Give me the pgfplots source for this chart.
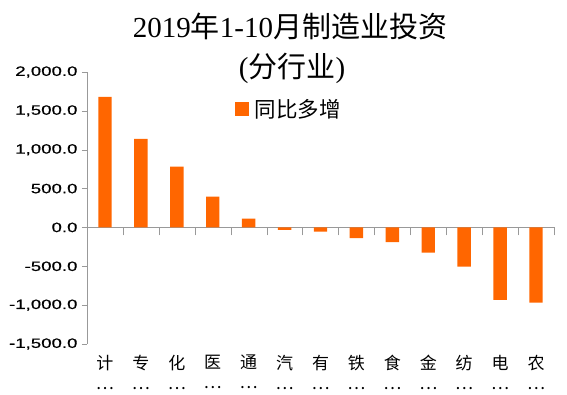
\documentclass[border=0pt]{standalone}
\usepackage{pgfplots}
\pgfplotsset{compat=1.18}
\usepackage{fontspec}
\setmainfont{Liberation Sans}
\newfontfamily\cjk{Noto Sans CJK SC}
\newfontfamily\serifl{Liberation Serif}
\newfontfamily\tickfont[FakeStretch=1.38,FakeBold=0.6]{Liberation Sans}
\definecolor{barorange}{HTML}{FF6600}
\definecolor{axgray}{HTML}{999999}
\begin{document}
\begin{tikzpicture}
\useasboundingbox (-88pt,-50pt) rectangle (479pt,344pt);
\begin{axis}[
  scale only axis, width=467pt, height=272pt,
  at={(-1pt,0pt)}, anchor=south west,
  xmin=-0.5, xmax=12.5, ymin=-1500, ymax=2000,
  axis y line=left, axis x line=middle,
  x axis line style={-, axgray},
  y axis line style={-, axgray},
  ytick={-1500,-1000,...,2000},
  yticklabel style={font=\tickfont\fontsize{13.5}{16}\selectfont, text=black, xshift=-1pt},
  /pgf/number format/.cd, fixed, fixed zerofill, precision=1, 1000 sep={,}, assume math mode=true,
  /pgfplots/.cd,
  tick align=outside,
  major tick length=5pt,
  minor tick length=8pt,
  every major x tick/.append style={draw=none},
  tick style={axgray},
  xtick={0,...,12},
  minor xtick={-0.5,0.5,...,12.5},
  xticklabels={计\\…,专\\…,化\\…,医\\…,通\\…,汽\\…,有\\…,铁\\…,食\\…,金\\…,纺\\…,电\\…,农\\…},
  x tick label style={align=center, font=\cjk\fontsize{17}{20}\selectfont, anchor=north, yshift=-119pt},
  legend entries={\hspace{4pt}同比多增},
  legend style={draw=none, fill=none, at={(0.31,0.864)}, anchor=west, font=\cjk\fontsize{21.5}{23}\selectfont},
  legend image code/.code={\fill[barorange] (0pt,-7pt) rectangle (14pt,7pt);},
]
\addplot[ybar, bar width=13.4pt, fill=barorange, draw=none] coordinates {
(0,1680) (1,1140) (2,784) (3,398) (4,112) (5,-30) (6,-55) (7,-136) (8,-188) (9,-325) (10,-505) (11,-933) (12,-968)
};
\end{axis}
\node[font=\fontsize{29}{32}\selectfont] at (202pt,318pt) {{\serifl 2019}{\cjk 年}{\serifl 1-10}{\cjk 月制造业投资}};
\node[font=\fontsize{29}{32}\selectfont] at (204pt,276pt) {{\serifl (}{\cjk 分行业}{\serifl )}};
\end{tikzpicture}
\end{document}
